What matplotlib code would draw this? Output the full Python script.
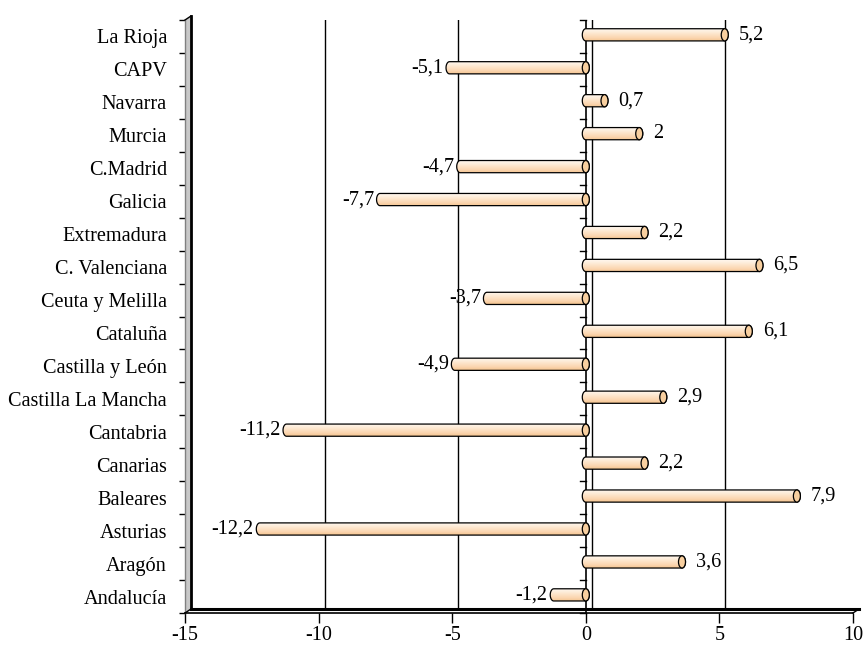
import numpy as np
import matplotlib
matplotlib.use('Agg')
import matplotlib.pyplot as plt
from matplotlib.path import Path
from matplotlib.patches import PathPatch, Ellipse, Polygon, Rectangle
from matplotlib.colors import LinearSegmentedColormap

# variacion por comunidad autonoma (%)
regions = ['La Rioja', 'CAPV', 'Navarra', 'Murcia', 'C.Madrid', 'Galicia',
           'Extremadura', 'C. Valenciana', 'Ceuta y Melilla', 'Cataluña',
           'Castilla y León', 'Castilla La Mancha', 'Cantabria', 'Canarias',
           'Baleares', 'Asturias', 'Aragón', 'Andalucía']
values = [5.2, -5.1, 0.7, 2, -4.7, -7.7, 2.2, 6.5, -3.7, 6.1,
          -4.9, 2.9, -11.2, 2.2, 7.9, -12.2, 3.6, -1.2]
x_ticks = [-15, -10, -5, 0, 5, 10]

FONT = 'Liberation Serif'
FS = 14.6

W, H = 866, 648
fig = plt.figure(figsize=(W / 100, H / 100), dpi=100)
L, B, AW, AH = 185, 35, 668, 593
ax = fig.add_axes([L / W, B / H, AW / W, AH / H])

xmin, xmax = -15, 10
n = len(regions)
ymin, ymax = -0.5, n - 0.5
ax.set_xlim(xmin, xmax)
ax.set_ylim(ymin, ymax)

# profundidad del efecto 3D en unidades de datos
DX = (xmax - xmin) * 6 / AW
DY = (ymax - ymin) * 4 / AH

for s in ax.spines.values():
    s.set_visible(False)

# pared del fondo
ax.add_patch(Rectangle((xmin + DX, ymin + DY), xmax - xmin, ymax - ymin,
                       fc='white', ec='none', zorder=0))
for gx in x_ticks[1:-1]:
    ax.plot([gx + DX, gx + DX], [ymin + DY, ymax + DY], color='black', lw=1, zorder=1)
ax.plot([xmin + DX, xmax + DX, xmax + DX], [ymax + DY, ymax + DY, ymin + DY],
        color='black', lw=1, zorder=1)

# pared izquierda
ax.add_patch(Polygon([(xmin, ymin), (xmin, ymax), (xmin + DX, ymax + DY), (xmin + DX, ymin + DY)],
                     closed=True, fc='#c8c8c8', ec='none', zorder=1, clip_on=False))
ax.plot([xmin, xmin], [ymin, ymax], color='#808080', lw=1, zorder=2, clip_on=False)
ax.plot([xmin + DX, xmin + DX], [ymin + DY, ymax + DY], color='black', lw=2, zorder=2, clip_on=False)
ax.plot([xmin, xmin + DX], [ymax, ymax + DY], color='black', lw=1, zorder=2, clip_on=False)

# suelo
ax.add_patch(Polygon([(xmin, ymin), (xmax, ymin), (xmax + DX, ymin + DY), (xmin + DX, ymin + DY)],
                     closed=True, fc='white', ec='none', zorder=2, clip_on=False))
ax.plot([xmin + DX, xmax + DX], [ymin + DY, ymin + DY], color='black', lw=2.2, zorder=3, clip_on=False)
ax.plot([xmin, xmax], [ymin, ymin], color='black', lw=1.2, zorder=3, clip_on=False)
ax.plot([xmax, xmax + DX], [ymin, ymin + DY], color='black', lw=1, zorder=3, clip_on=False)
ax.plot([xmin, xmin + DX], [ymin, ymin + DY], color='black', lw=1, zorder=3, clip_on=False)

# eje de categorias en el cero
bounds = np.arange(n + 1) - 0.5
ax.plot([0, 0], [ymin, ymax], color='black', lw=1.2, zorder=3)
tick_dx = (xmax - xmin) * 6 / AW
for yb in bounds:
    ax.plot([-tick_dx, 0], [yb, yb], color='black', lw=1, zorder=3, clip_on=False)

# barras cilindricas
cmap = LinearSegmentedColormap.from_list('cil', ['#f5c592', '#fbd6b0', '#fde2c6', '#feefde', '#fff9f2'])
grad = np.linspace(0, 1, 64).reshape(-1, 1)
bh = 0.37
cap_w = (xmax - xmin) * 7 / AW
t = np.linspace(0, np.pi, 30)

for i, (name, v) in enumerate(zip(regions, values)):
    yc = n - 1 - i + 0.05
    x0, x1 = min(0, v), max(0, v)
    top, bot = yc + bh / 2, yc - bh / 2
    # contorno: recta superior, media elipse derecha, recta inferior, media elipse izquierda
    right = np.column_stack([x1 + cap_w / 2 * np.sin(t), yc + bh / 2 * np.cos(t)])
    left = np.column_stack([x0 - cap_w / 2 * np.sin(t), yc - bh / 2 * np.cos(t)])
    verts = np.vstack([[x0, top], right, left, [x0, top]])
    body = PathPatch(Path(verts), fc='none', ec='black', lw=0.9, zorder=5)
    ax.add_patch(body)
    im = ax.imshow(grad, cmap=cmap, aspect='auto', origin='lower',
                   extent=[x0 - cap_w, x1 + cap_w, bot, top], zorder=4)
    im.set_clip_path(body)
    ax.add_patch(Ellipse((x1, yc), cap_w, bh, fc='#f8cf9f', ec='black', lw=0.9, zorder=6))

    txt = ('%.1f' % v).replace('.', ',')
    if txt.endswith(',0'):
        txt = txt[:-2]
    if v >= 0:
        ax.annotate(txt, (x1, yc), xytext=(14, 0), textcoords='offset pixels',
                    ha='left', va='center', fontsize=FS, family=FONT, zorder=7)
    else:
        ax.annotate(txt, (x0, yc), xytext=(-6, 0), textcoords='offset pixels',
                    ha='right', va='center', fontsize=FS, family=FONT, zorder=7)

ax.set_xlim(xmin, xmax)
ax.set_ylim(ymin, ymax)

ax.set_xticks(x_ticks)
ax.set_xticklabels([str(x) for x in x_ticks], fontsize=FS, family=FONT)
ax.tick_params(axis='x', direction='out', length=7, width=1, pad=2.5)

ax.set_yticks(np.arange(n)[::-1])
ax.set_yticklabels(regions, fontsize=FS, family=FONT)
ax.set_yticks(bounds, minor=True)
ax.tick_params(axis='y', which='major', length=0, pad=13)
ax.tick_params(axis='y', which='minor', direction='out', length=4, width=1)

plt.savefig('out.png', dpi=100)
